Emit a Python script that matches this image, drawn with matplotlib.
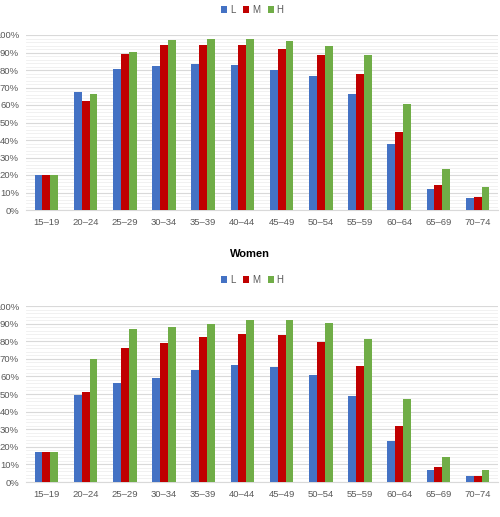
import numpy as np
import matplotlib
matplotlib.use("Agg")
import matplotlib.pyplot as plt
from matplotlib.ticker import MultipleLocator, PercentFormatter

plt.rcParams["font.family"] = ["Liberation Sans", "DejaVu Sans"]

age_groups = ["15–19", "20–24", "25–29", "30–34", "35–39", "40–44",
              "45–49", "50–54", "55–59", "60–64", "65–69", "70–74"]
series_names = ["L", "M", "H"]
colors = ["#4472C4", "#C00000", "#70AD47"]

# top panel (men)
men_L = [20, 67.5, 80.5, 82.5, 83.5, 83, 80, 76.5, 66.3, 38, 12.2, 6.8]
men_M = [20, 62.5, 89.3, 94.5, 94.5, 94.5, 91.8, 88.7, 78, 44.7, 14.3, 7.4]
men_H = [20, 66.5, 90.5, 97, 98, 97.5, 96.3, 93.8, 88.5, 60.8, 23.3, 13.1]

# bottom panel (women)
women_L = [17.3, 49.5, 56.5, 59, 63.6, 66.4, 65.4, 60.8, 48.6, 23.2, 6.8, 3.3]
women_M = [17.3, 51.2, 76, 79, 82.3, 84, 83.7, 79.4, 66, 31.8, 8.5, 3.3]
women_H = [17.3, 69.8, 87, 87.8, 89.9, 92, 92, 90.2, 81, 47.1, 14.3, 6.6]

fig = plt.figure(figsize=(5.0, 5.17), dpi=100)


def draw_panel(ax, values, title=None, legend_y=None):
    x = np.arange(len(age_groups))
    w = 0.2
    for i, (name, vals) in enumerate(zip(series_names, values)):
        ax.bar(x + (i - 1) * w, vals, width=w, color=colors[i], label=name,
               zorder=3)
    ax.set_xlim(-0.52, len(age_groups) - 0.48)
    ax.set_ylim(0, 100)
    ax.yaxis.set_major_locator(MultipleLocator(10))
    ax.yaxis.set_minor_locator(MultipleLocator(2))
    ax.yaxis.set_major_formatter(PercentFormatter(decimals=0))
    ax.grid(axis="y", which="major", color="#D9D9D9", linewidth=0.8, zorder=0)
    ax.grid(axis="y", which="minor", color="#EFEFEF", linewidth=0.6, zorder=0)
    ax.set_xticks(x)
    ax.set_xticklabels(age_groups)
    ax.tick_params(axis="both", which="both", length=0, labelsize=6.8,
                   colors="#595959")
    ax.tick_params(axis="y", pad=5)
    ax.tick_params(axis="x", pad=6)
    for s in ["top", "right", "left"]:
        ax.spines[s].set_visible(False)
    ax.spines["bottom"].set_color("#D9D9D9")
    if title:
        fig.text(0.5, 1 - 254 / 517, title, ha="center", va="center",
                 fontsize=8, fontweight="bold")
    fig.legend(*ax.get_legend_handles_labels(), loc="center",
               bbox_to_anchor=(0.505, legend_y), ncol=3, frameon=False,
               fontsize=7, handlelength=0.6, handleheight=0.6,
               handletextpad=0.3, columnspacing=0.8,
               labelcolor="#595959")


ax1 = fig.add_axes([0.052, 1 - 210 / 517, 0.944, 175 / 517])
draw_panel(ax1, [men_L, men_M, men_H], legend_y=1 - 10 / 517)

ax2 = fig.add_axes([0.052, 1 - 482 / 517, 0.944, 176 / 517])
draw_panel(ax2, [women_L, women_M, women_H], title="Women",
           legend_y=1 - 280 / 517)

fig.savefig("out.png", dpi=100)
